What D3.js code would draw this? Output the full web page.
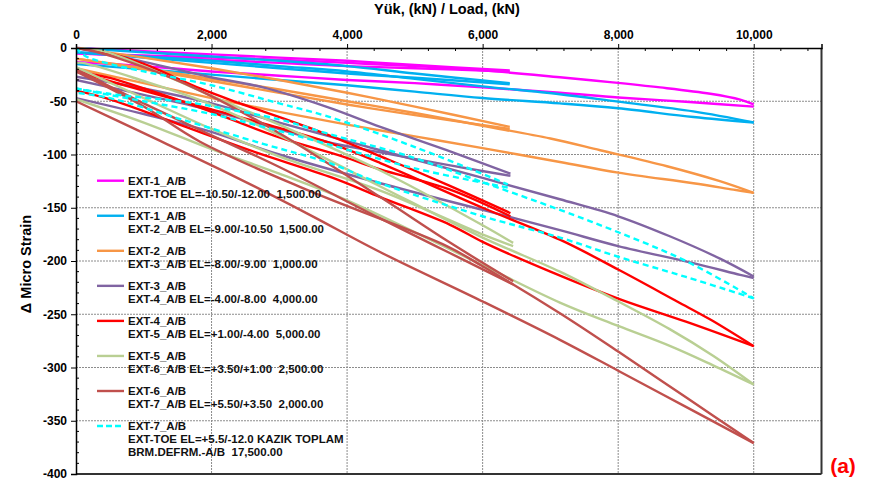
<!DOCTYPE html>
<html>
<head>
<meta charset="utf-8">
<script src="https://cdn.jsdelivr.net/npm/d3@7"></script>
<style>
  html, body { margin: 0; padding: 0; background: #fff; }
  svg { display: block; font-family: "Liberation Sans", Arial, sans-serif; }
  .leg text { white-space: pre; }
</style>
</head>
<body>
<svg id="chart" width="870" height="482"></svg>
<script>
// Load (kN) vs. change in micro strain, two load cycles per extensometer pair.
// Each series: [first loading, first unloading, second loading, second unloading]
const ext1 = [
  [[0,0],[1000,-3],[2000,-6],[3000,-9],[4000,-12],[5000,-16],[6400,-21]],
  [[6400,-22],[5000,-19],[4000,-17],[3000,-14],[2000,-11],[1000,-8],[0,-5]],
  [[0,-5],[1000,-7],[2000,-9],[3000,-11],[4000,-14],[5000,-17],[6000,-21],[7140,-27.5],[7880,-32],[8620,-37],[9360,-43],[9800,-48.5],[10000,-53]],
  [[10000,-55],[9000,-50.5],[8000,-46.5],[7140,-42],[6000,-37],[5000,-33],[4000,-30],[3000,-26],[2000,-22],[1000,-17],[0,-13]]
];
const ext2 = [
  [[0,0],[1000,-4],[2000,-8],[3000,-12],[4000,-17],[5000,-24],[6400,-33]],
  [[6400,-34],[5000,-28],[4000,-24],[3000,-19],[2000,-14],[1000,-9],[0,-4]],
  [[0,-4],[1000,-8],[2000,-12],[3000,-17],[4000,-22],[5000,-29],[6000,-36],[7140,-43.4],[8000,-50.4],[9110,-59.5],[10000,-69.8]],
  [[10000,-70],[9110,-64.8],[8000,-56.6],[7140,-52],[6000,-47],[5000,-41],[4000,-35],[3000,-30],[2000,-25],[1000,-20],[0,-15]]
];
const ext3 = [
  [[0,0],[1000,-9],[2000,-19],[3000,-30],[4000,-42],[5000,-55],[6400,-74]],
  [[6400,-76],[5000,-63],[4000,-53],[3000,-42],[2000,-31],[1000,-20],[0,-10]],
  [[0,-10],[1000,-19],[2000,-29],[3000,-39],[4000,-50],[5000,-61],[6000,-73],[7000,-85],[7735,-96],[8720,-111],[9500,-125],[10000,-136]],
  [[10000,-136],[9700,-133],[9110,-127],[8000,-117],[7140,-107],[6000,-94],[5000,-83],[4000,-72],[3000,-60],[2000,-47],[1000,-33],[0,-19]]
];
const ext4 = [
  [[0,0],[1000,-13],[1960,-27],[2760,-37],[3690,-55],[4490,-74],[5470,-96],[6410,-118]],
  [[6410,-120],[5500,-110],[4490,-98],[3690,-88],[2760,-72],[1960,-58],[1000,-44],[0,-30]],
  [[0,-27],[1000,-38],[2000,-52],[3000,-70],[4490,-96],[6000,-122],[7140,-142],[8000,-158],[8770,-177],[9510,-198],[10000,-214.5]],
  [[10000,-216],[9800,-213],[9110,-202],[8000,-186],[7140,-171],[6000,-152],[4490,-127],[3000,-100],[1960,-78],[1000,-62],[0,-47]]
];
const ext5 = [
  [[0,0],[500,-5],[1000,-15],[1830,-38],[2420,-52],[3450,-75],[4580,-104],[5500,-129],[6410,-155]],
  [[6410,-158],[5520,-133],[4490,-114],[3940,-102],[3000,-84],[1830,-56],[1000,-38],[500,-28],[0,-22]],
  [[0,-22],[490,-31],[1960,-57],[3000,-75],[3690,-88],[4490,-108],[6000,-150],[7140,-180],[8000,-208],[8870,-238],[9360,-255],[10000,-280]],
  [[10000,-280],[9000,-257],[8030,-236],[7000,-210],[6000,-182],[5520,-166],[4490,-140],[3790,-122],[2560,-96],[1620,-74],[490,-48],[0,-40]]
];
const ext6 = [
  [[0,0],[400,-3],[1000,-17],[2000,-45],[3000,-72],[4490,-115],[5960,-165],[6450,-183]],
  [[6450,-186],[5960,-174],[4490,-134],[3007,-102],[2000,-76],[1000,-47],[0,-18]],
  [[0,-14],[100,-14],[1000,-31],[1830,-49],[3000,-82],[4490,-130],[6000,-178],[7140,-210],[8000,-238],[8760,-264],[9400,-289],[10000,-316]],
  [[10000,-316],[9400,-298],[8770,-280],[8000,-261],[7140,-239],[6000,-204],[4000,-143],[3000,-118],[2000,-95],[1000,-70],[0,-48]]
];
const ext7 = [
  [[0,0],[200,-2],[1000,-18],[1830,-40],[3000,-80],[4490,-140],[5500,-182],[6450,-219]],
  [[6450,-222],[5500,-192],[4490,-160],[3007,-112],[2000,-82],[1000,-52],[0,-20]],
  [[0,-22],[1000,-55],[1830,-88],[3400,-133],[5470,-186],[6000,-205],[7140,-249],[8000,-285],[9000,-328],[10000,-371]],
  [[10000,-371],[9000,-337],[8000,-303],[7140,-274],[6000,-238],[4500,-192],[3400,-155],[2320,-120],[1000,-80],[0,-50]]
];
const extToe = [
  [[0,0],[150,-8],[500,-15],[1000,-22],[2000,-35],[3000,-52],[3700,-64],[5000,-93],[6370,-128]],
  [[6370,-131],[5000,-113],[3700,-90],[2760,-74],[2000,-62],[1000,-50],[490,-44],[0,-38]],
  [[0,-38],[490,-43],[1770,-52],[2110,-56],[3000,-67],[3690,-80],[4930,-102],[6000,-126],[7140,-152],[8000,-173],[9000,-200],[10000,-235]],
  [[10000,-235],[9000,-215],[8000,-196],[7140,-178],[6000,-158],[4490,-127],[3690,-107],[2760,-90],[1500,-66],[500,-47],[0,-42]]
];

const seriesData = [ext1, ext2, ext3, ext4, ext5, ext6, ext7, extToe];
const seriesColors = ["#FF00FF", "#00B0F0", "#F79646", "#8064A2", "#FF0000", "#B9CF93", "#C0504D", "#00FFFF"];
const seriesDashed = [false, false, false, false, false, false, false, true];
const legendLabels = [
  ["EXT-1_A/B", "EXT-TOE EL=-10.50/-12.00  1,500.00"],
  ["EXT-1_A/B", "EXT-2_A/B EL=-9.00/-10.50  1,500.00"],
  ["EXT-2_A/B", "EXT-3_A/B EL=-8.00/-9.00  1,000.00"],
  ["EXT-3_A/B", "EXT-4_A/B EL=-4.00/-8.00  4,000.00"],
  ["EXT-4_A/B", "EXT-5_A/B EL=+1.00/-4.00  5,000.00"],
  ["EXT-5_A/B", "EXT-6_A/B EL=+3.50/+1.00  2,500.00"],
  ["EXT-6_A/B", "EXT-7_A/B EL=+5.50/+3.50  2,000.00"],
  ["EXT-7_A/B", "EXT-TOE EL=+5.5/-12.0 KAZIK TOPLAM", "BRM.DEFRM.-A/B  17,500.00"]
];
const xMajorTicks = [0, 2000, 4000, 6000, 8000, 10000];
const yMajorTicks = [0, -50, -100, -150, -200, -250, -300, -350, -400];
const xTitle = "Yük, (kN) / Load, (kN)";
const yTitle = "\u0394 Micro Strain";
const panelTag = "(a)";

const svg = d3.select("#chart");
const L = 76, R = 821.5, T = 48, B = 474;
const x = d3.scaleLinear().domain([0, 11000]).range([L, R]);
const y = d3.scaleLinear().domain([0, -400]).range([T, B]);
const fontFamily = "'Liberation Sans', Arial, sans-serif";

// gridlines
const grid = svg.append("g").attr("stroke", "#8c8c8c").attr("stroke-width", 1).attr("stroke-dasharray", "2,1");
grid.selectAll("line.gx").data(xMajorTicks.filter(d => d > 0)).join("line")
  .attr("x1", d => x(d)).attr("x2", d => x(d)).attr("y1", T).attr("y2", B);
grid.selectAll("line.gy").data(yMajorTicks.filter(d => d < 0 && d > -400)).join("line")
  .attr("x1", L).attr("x2", R).attr("y1", d => y(d)).attr("y2", d => y(d));

// frame: right and bottom edges
svg.append("line").attr("x1", R).attr("x2", R).attr("y1", T).attr("y2", B).attr("stroke", "#333").attr("stroke-width", 2);
svg.append("line").attr("x1", L).attr("x2", R).attr("y1", B).attr("y2", B).attr("stroke", "#333").attr("stroke-width", 2);

// data lines
svg.append("clipPath").attr("id", "plotClip").append("rect")
  .attr("x", L).attr("y", T - 2).attr("width", R - L).attr("height", B - T + 2);
const line = d3.line().x(d => x(d[0])).y(d => y(d[1])).curve(d3.curveCatmullRom.alpha(0.5));
const plot = svg.append("g").attr("clip-path", "url(#plotClip)");
seriesData.forEach((branches, i) => {
  plot.append("g").selectAll("path").data(branches).join("path")
    .attr("d", line)
    .attr("fill", "none")
    .attr("stroke", seriesColors[i])
    .attr("stroke-width", 2.4)
    .attr("stroke-linejoin", "round")
    .attr("stroke-dasharray", seriesDashed[i] ? "6,4" : null);
});

// top axis
const xAxis = d3.axisTop(x).tickValues(xMajorTicks).tickSize(4).tickPadding(5)
  .tickFormat(d3.format(","));
const gx = svg.append("g").attr("transform", `translate(0,${T})`).call(xAxis);
gx.select(".domain").attr("stroke", "#000").attr("stroke-width", 1.5);
gx.selectAll("text").attr("font-size", 12).attr("font-weight", "bold").attr("fill", "#000")
  .attr("font-family", fontFamily);
// minor ticks (inside)
const xMinor = d3.range(400, 11000, 400).filter(v => v % 2000 !== 0);
svg.append("g").selectAll("line").data(xMinor).join("line")
  .attr("x1", d => x(d)).attr("x2", d => x(d)).attr("y1", T).attr("y2", T + 3)
  .attr("stroke", "#000").attr("stroke-width", 1);

// left axis
const yAxis = d3.axisLeft(y).tickValues(yMajorTicks).tickSize(5).tickPadding(4)
  .tickFormat(d => String(d));
const gy = svg.append("g").attr("transform", `translate(${L},0)`).call(yAxis);
gy.select(".domain").attr("stroke", "#000").attr("stroke-width", 1.5);
gy.selectAll("text").attr("font-size", 12).attr("font-weight", "bold").attr("fill", "#000")
  .attr("font-family", fontFamily);
const yMinor = d3.range(-10, -400, -10).filter(v => v % 50 !== 0);
svg.append("g").selectAll("line").data(yMinor).join("line")
  .attr("x1", L).attr("x2", L + 3).attr("y1", d => y(d)).attr("y2", d => y(d))
  .attr("stroke", "#000").attr("stroke-width", 1);

// titles
svg.append("text").attr("x", 447).attr("y", 14).attr("text-anchor", "middle")
  .attr("font-size", 14.5).attr("font-weight", "bold").text(xTitle);
svg.append("text").attr("transform", "translate(31,264) rotate(-90)").attr("text-anchor", "middle")
  .attr("font-size", 14.5).attr("font-weight", "bold").text(yTitle);
svg.append("text").attr("x", 843).attr("y", 473).attr("text-anchor", "middle")
  .attr("font-size", 21).attr("font-weight", "bold").attr("fill", "#FF0000").text(panelTag);

// legend
const leg = svg.append("g").attr("class", "leg");
legendLabels.forEach((lines, i) => {
  const cy = 180.7 + i * 35.05;
  leg.append("line").attr("x1", 97).attr("x2", 124).attr("y1", cy).attr("y2", cy)
    .attr("stroke", seriesColors[i]).attr("stroke-width", 2.4)
    .attr("stroke-dasharray", seriesDashed[i] ? "6,3" : null);
  lines.forEach((t, j) => {
    leg.append("text").attr("x", 128).attr("y", cy + 4 + j * 12.8)
      .attr("font-size", 11.5).attr("font-weight", "bold").attr("fill", "#111").text(t);
  });
});
</script>
</body>
</html>
